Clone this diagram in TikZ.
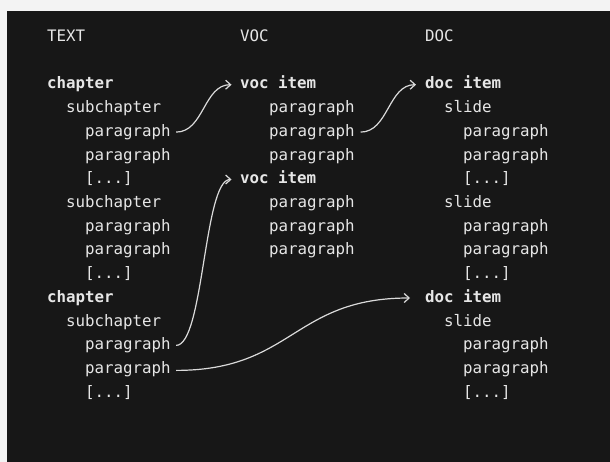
\documentclass[tikz,border=0pt]{standalone}
\usepackage{fontspec}
\setmonofont{DejaVu Sans Mono}
\usetikzlibrary{arrows.meta,calc}
\definecolor{outerbg}{HTML}{F3F3F3}
\definecolor{panel}{HTML}{171717}
\definecolor{ink}{HTML}{E6E6E6}
\definecolor{linkc}{HTML}{DADADA}
\begin{document}
\begin{tikzpicture}[x=1pt,y=-1pt,
  txt/.style={anchor=base west,inner sep=0pt,outer sep=0pt,text=ink,font=\ttfamily\fontsize{15.8}{19}\selectfont},
  hd/.style={txt},
  bd/.style={txt,font=\ttfamily\bfseries\fontsize{15.8}{19}\selectfont},
  link/.style={draw=linkc,line width=1.2pt,-{Straight Barb[length=5pt,width=9pt,line width=1.2pt]}}]
\fill[outerbg] (0,0) rectangle (610,462);
\fill[panel] (7,11) rectangle (610,462);
\useasboundingbox (0,0) rectangle (610,462);
% headers
\node[hd] (hT) at (47,41.6) {TEXT};
\node[hd] (hV) at (240,41.6) {VOC};
\node[hd] (hD) at (425,41.6) {DOC};
% TEXT column
\node[bd]  (t1)  at (47,89)    {chapter};
\node[txt] (t2)  at (66,112.7) {subchapter};
\node[txt] (t3)  at (85,136.4) {paragraph};
\node[txt] (t4)  at (85,160.1) {paragraph};
\node[txt] (t5)  at (85,183.8) {[...]};
\node[txt] (t6)  at (66,207.5) {subchapter};
\node[txt] (t7)  at (85,231.2) {paragraph};
\node[txt] (t8)  at (85,254.9) {paragraph};
\node[txt] (t9)  at (85,278.6) {[...]};
\node[bd]  (t10) at (47,302.3) {chapter};
\node[txt] (t11) at (66,326.0) {subchapter};
\node[txt] (t12) at (85,349.7) {paragraph};
\node[txt] (t13) at (85,373.4) {paragraph};
\node[txt] (t14) at (85,397.1) {[...]};
% VOC column
\node[bd]  (v1) at (240,89)    {voc item};
\node[txt] (v2) at (269,112.7) {paragraph};
\node[txt] (v3) at (269,136.4) {paragraph};
\node[txt] (v4) at (269,160.1) {paragraph};
\node[bd]  (v5) at (240,183.8) {voc item};
\node[txt] (v6) at (269,207.5) {paragraph};
\node[txt] (v7) at (269,231.2) {paragraph};
\node[txt] (v8) at (269,254.9) {paragraph};
% DOC column
\node[bd]  (d1)  at (425,89)    {doc item};
\node[txt] (d2)  at (444,112.7) {slide};
\node[txt] (d3)  at (463,136.4) {paragraph};
\node[txt] (d4)  at (463,160.1) {paragraph};
\node[txt] (d5)  at (463,183.8) {[...]};
\node[txt] (d6)  at (444,207.5) {slide};
\node[txt] (d7)  at (463,231.2) {paragraph};
\node[txt] (d8)  at (463,254.9) {paragraph};
\node[txt] (d9)  at (463,278.6) {[...]};
\node[bd]  (d10) at (425,302.3) {doc item};
\node[txt] (d11) at (444,326.0) {slide};
\node[txt] (d12) at (463,349.7) {paragraph};
\node[txt] (d13) at (463,373.4) {paragraph};
\node[txt] (d14) at (463,397.1) {[...]};
% link end points
\coordinate (s1) at ([xshift=5.5pt,yshift=4.3pt]t3.base east);
\coordinate (e1) at ([xshift=-8.5pt,yshift=4.3pt]v1.base west);
\coordinate (s2) at ([xshift=6pt,yshift=4.3pt]v3.base east);
\coordinate (e2) at ([xshift=-9pt,yshift=4.3pt]d1.base west);
\coordinate (s3) at ([xshift=5.5pt,yshift=4.3pt]t12.base east);
\coordinate (e3) at ([xshift=-8.5pt,yshift=4.3pt]v5.base west);
\coordinate (s4) at ([xshift=5.5pt,yshift=3pt]t13.base east);
\coordinate (e4) at ([xshift=-15pt,yshift=4.3pt]d10.base west);
\foreach \i in {1,2,3,4}{\coordinate (m\i) at ($(s\i)!0.5!(e\i)$);}
\draw[link] (s1) .. controls (m1 |- s1) and (m1 |- e1) .. (e1);
\draw[link] (s2) .. controls (m2 |- s2) and (m2 |- e2) .. (e2);
\draw[link] (s3) .. controls (m3 |- s3) and (m3 |- e3) .. (e3);
\draw[link] (s4) .. controls (m4 |- s4) and (m4 |- e4) .. (e4);
\end{tikzpicture}
\end{document}
